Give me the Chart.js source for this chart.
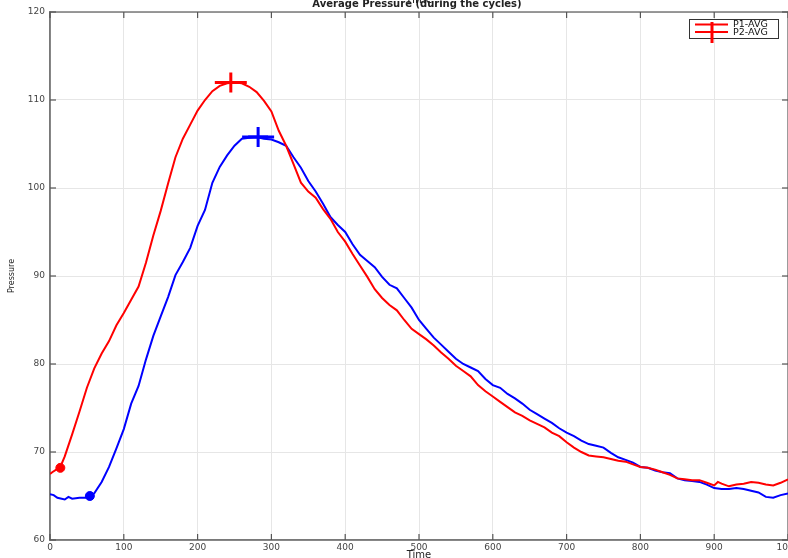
<!DOCTYPE html>
<html>
<head>
<meta charset="utf-8">
<script src="https://cdn.jsdelivr.net/npm/chart.js@4"></script>
<style>
  html, body { margin: 0; padding: 0; background: #fff; overflow: hidden; }
  #wrap { width: 788px; height: 558px; position: relative; }
</style>
</head>
<body>
<div id="wrap"><canvas id="chart"></canvas></div>
<script>
// P1-AVG (red) readings
const p1Time = [0, 3, 14, 20, 30, 40, 50, 60, 70, 80, 90, 100, 110, 120, 130, 140, 150, 160, 170, 180,
  190, 200, 210, 220, 230, 240, 250, 260, 270, 280, 290, 300, 310, 320, 330, 340, 350, 360, 370, 380,
  390, 400, 410, 420, 430, 440, 450, 460, 470, 480, 490, 500, 510, 520, 530, 540, 550, 560, 570, 580,
  590, 600, 610, 620, 630, 640, 650, 660, 670, 680, 690, 700, 710, 720, 730, 740, 750, 760, 770, 780,
  790, 800, 810, 820, 830, 840, 850, 860, 870, 880, 890, 900, 905, 910, 920, 930, 940, 950, 960, 970,
  980, 990, 1000];
const p1Avg = [67.5, 67.7, 68.3, 69.5, 72.0, 74.6, 77.3, 79.5, 81.2, 82.6, 84.4, 85.8, 87.3, 88.8, 91.5, 94.6, 97.4, 100.5, 103.5, 105.6,
  107.2, 108.8, 110.0, 111.0, 111.6, 111.9, 112.0, 111.9, 111.5, 110.9, 109.9, 108.7, 106.5, 104.8, 102.7, 100.6, 99.6, 98.9, 97.6, 96.5,
  95.0, 93.9, 92.5, 91.2, 89.9, 88.5, 87.5, 86.7, 86.1, 85.0, 84.0, 83.4, 82.8, 82.1, 81.3, 80.6, 79.8, 79.2, 78.6, 77.6,
  76.9, 76.3, 75.7, 75.1, 74.5, 74.1, 73.6, 73.2, 72.8, 72.2, 71.8, 71.1, 70.5, 70.0, 69.6, 69.5, 69.4, 69.2, 69.0, 68.9,
  68.6, 68.3, 68.2, 68.0, 67.7, 67.4, 67.0, 66.9, 66.8, 66.8, 66.5, 66.2, 66.6, 66.4, 66.1, 66.3, 66.4, 66.6, 66.5, 66.3,
  66.2, 66.5, 66.9];

// P2-AVG (blue) readings
const p2Time = [0, 5, 10, 20, 25, 30, 40, 50, 54, 60, 70, 80, 90, 100, 110, 120, 130, 140, 150, 160,
  170, 180, 190, 200, 210, 220, 230, 240, 250, 260, 270, 280, 290, 300, 310, 320, 330, 340, 350, 360,
  370, 380, 390, 400, 410, 420, 430, 440, 450, 460, 470, 480, 490, 500, 510, 520, 530, 540, 550, 560,
  570, 580, 590, 600, 610, 620, 630, 640, 650, 660, 670, 680, 690, 700, 710, 720, 730, 740, 750, 760,
  770, 780, 790, 800, 810, 820, 830, 840, 850, 860, 870, 880, 890, 900, 910, 920, 930, 940, 950, 960,
  970, 980, 990, 1000];
const p2Avg = [65.2, 65.1, 64.8, 64.6, 64.9, 64.7, 64.8, 64.8, 65.0, 65.3, 66.6, 68.3, 70.4, 72.6, 75.5, 77.5, 80.5, 83.2, 85.4, 87.6,
  90.1, 91.6, 93.2, 95.7, 97.5, 100.6, 102.4, 103.7, 104.8, 105.6, 105.7, 105.8, 105.6, 105.5, 105.2, 104.8, 103.5, 102.3, 100.8, 99.6,
  98.2, 96.7, 95.8, 95.0, 93.6, 92.4, 91.7, 91.0, 89.9, 89.0, 88.6, 87.5, 86.4, 85.0, 84.0, 83.0, 82.2, 81.4, 80.6, 80.0,
  79.6, 79.2, 78.3, 77.6, 77.3, 76.6, 76.1, 75.5, 74.8, 74.3, 73.8, 73.3, 72.7, 72.2, 71.8, 71.3, 70.9, 70.7, 70.5, 69.9,
  69.4, 69.1, 68.8, 68.3, 68.2, 67.9, 67.7, 67.6, 67.0, 66.8, 66.7, 66.6, 66.3, 65.9, 65.8, 65.8, 65.9, 65.8, 65.6, 65.4,
  64.9, 64.8, 65.1, 65.3];

// start (dot) and peak (plus) markers
const startTime = [14, 54];
const startValue = [68.2, 65.0];
const peakTime = [245, 282];
const peakValue = [112.0, 105.8];

const seriesNames = ['P1-AVG', 'P2-AVG'];
const seriesColors = ['#ff0000', '#0000ff'];
const xTickStep = 100;
const yTickStep = 10;

const toPoints = (xs, ys) => xs.map((x, i) => ({ x, y: ys[i] }));

function markerSets(i) {
  const peak = [{ x: peakTime[i], y: peakValue[i] }];
  const start = [{ x: startTime[i], y: startValue[i] }];
  const base = { showLine: false, borderColor: seriesColors[i], backgroundColor: seriesColors[i] };
  return [
    { ...base, data: peak, pointStyle: 'line', pointRadius: 16, pointBorderWidth: 3 },
    { ...base, data: peak, pointStyle: 'cross', pointRadius: 10, pointBorderWidth: 3 },
    { ...base, data: start, pointStyle: 'circle', pointRadius: 4.5, pointBorderWidth: 1 }
  ];
}

const datasets = [
  ...markerSets(0),
  ...markerSets(1),
  {
    label: seriesNames[0],
    data: toPoints(p1Time, p1Avg),
    borderColor: seriesColors[0],
    borderWidth: 2,
    pointRadius: 0,
    tension: 0
  },
  {
    label: seriesNames[1],
    data: toPoints(p2Time, p2Avg),
    borderColor: seriesColors[1],
    borderWidth: 2,
    pointRadius: 0,
    tension: 0
  }
];

function line(ctx, x1, y1, x2, y2) {
  ctx.beginPath();
  ctx.moveTo(x1, y1);
  ctx.lineTo(x2, y2);
  ctx.stroke();
}

// box round the plot, inward ticks like the original
const framePlugin = {
  id: 'frame',
  beforeDatasetsDraw(chart) {
    const { ctx, chartArea: a, scales: { x, y } } = chart;
    ctx.save();
    ctx.strokeStyle = '#7a7a7a';
    ctx.lineWidth = 1.5;
    ctx.strokeRect(a.left, a.top, a.right - a.left, a.bottom - a.top);
    ctx.strokeStyle = '#555';
    ctx.lineWidth = 1.2;
    x.ticks.forEach(t => {
      const px = x.getPixelForValue(t.value);
      line(ctx, px, a.bottom, px, a.bottom - 6);
      line(ctx, px, a.top, px, a.top + 6);
    });
    y.ticks.forEach(t => {
      const py = y.getPixelForValue(t.value);
      line(ctx, a.left, py, a.left + 6, py);
      line(ctx, a.right, py, a.right - 6, py);
    });
    ctx.restore();
  },
  afterDraw(chart) {
    const { ctx } = chart;
    ctx.save();
    // titles, cut off at the top edge as in the reference
    ctx.fillStyle = '#222';
    ctx.textAlign = 'center';
    ctx.textBaseline = 'alphabetic';
    ctx.font = '11px "DejaVu Sans"';
    ctx.fillText('Time', 419, 3);
    ctx.font = 'bold 10px "DejaVu Sans"';
    ctx.fillText('Average Pressure (during the cycles)', 417, 6.5);

    // legend box
    const bx = 689, by = 19, bw = 89, bh = 19;
    ctx.fillStyle = '#fff';
    ctx.fillRect(bx, by, bw, bh);
    ctx.strokeStyle = '#333';
    ctx.lineWidth = 1;
    ctx.strokeRect(bx + 0.5, by + 0.5, bw, bh);
    const rows = [24.5, 32];
    ctx.textAlign = 'left';
    ctx.textBaseline = 'middle';
    ctx.font = '9.5px "DejaVu Sans"';
    rows.forEach((ry, i) => {
      ctx.strokeStyle = seriesColors[0];
      ctx.lineWidth = 2;
      line(ctx, 695, ry, 728, ry);
      ctx.fillStyle = '#111';
      ctx.fillText(seriesNames[i], 733, ry + 0.5);
    });
    ctx.strokeStyle = seriesColors[0];
    ctx.lineWidth = 3;
    line(ctx, 712, 22, 712, 43);
    ctx.restore();
  }
};

new Chart(document.getElementById('chart'), {
  type: 'line',
  data: { datasets },
  plugins: [framePlugin],
  options: {
    responsive: true,
    maintainAspectRatio: false,
    animation: false,
    layout: { autoPadding: false, padding: { top: 12, right: 0, bottom: 0, left: 0 } },
    plugins: {
      legend: { display: false },
      tooltip: { enabled: false },
      title: { display: false }
    },
    scales: {
      x: {
        type: 'linear',
        min: 0,
        max: 1000,
        ticks: {
          stepSize: xTickStep,
          padding: 2,
          maxRotation: 0,
          autoSkip: false,
          color: '#444',
          font: { family: 'DejaVu Sans', size: 9 },
          callback: v => String(v)
        },
        grid: { color: '#e6e6e6', lineWidth: 1, drawTicks: false },
        border: { color: '#7a7a7a', width: 1.5 },
        title: {
          display: true,
          text: 'Time',
          color: '#222',
          padding: { top: 0, bottom: -3 },
          font: { family: 'DejaVu Sans', size: 10 }
        },
        afterFit(scale) {
          scale.height = 18;
          scale.paddingLeft = 0;
          scale.paddingRight = 0;
        }
      },
      y: {
        type: 'linear',
        min: 60,
        max: 120,
        ticks: {
          stepSize: yTickStep,
          padding: 5,
          color: '#444',
          font: { family: 'DejaVu Sans', size: 9 }
        },
        grid: { color: '#e6e6e6', lineWidth: 1, drawTicks: false },
        border: { color: '#7a7a7a', width: 1.5 },
        title: {
          display: true,
          text: 'Pressure',
          color: '#222',
          padding: { top: 7, bottom: 0 },
          font: { family: 'DejaVu Sans', size: 8 }
        },
        afterFit(scale) {
          scale.width = 50;
          scale.paddingTop = 0;
          scale.paddingBottom = 0;
        }
      }
    }
  }
});
</script>
</body>
</html>
